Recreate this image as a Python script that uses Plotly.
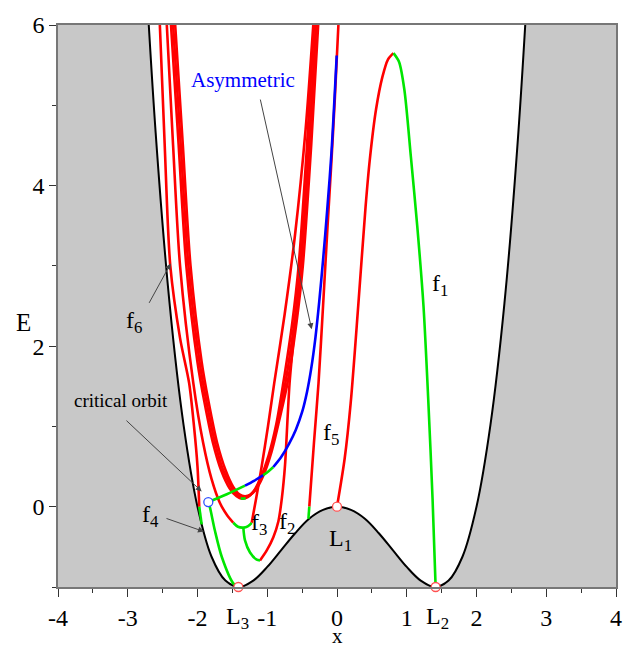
import plotly.graph_objects as go

# ---- boundary of the allowed region, E = V(x) ----
pot_x = [-2.8, -2.6, -2.4, -2.2, -2.0, -1.8, -1.6, -1.4, -1.2, -1.0, -0.8, -0.6, -0.4, -0.2, 0.0,
         0.2, 0.4, 0.6, 0.8, 1.0, 1.2, 1.4, 1.6, 1.8, 2.0, 2.2, 2.4, 2.6, 2.8]
pot_E = [7.53, 4.66, 2.53, 1.02, 0.0, -0.62, -0.92, -1.0, -0.92, -0.75, -0.54, -0.33, -0.15, -0.04, 0.0,
         -0.04, -0.15, -0.33, -0.54, -0.75, -0.92, -1.0, -0.92, -0.62, 0.0, 1.02, 2.53, 4.66, 7.53]

# ---- family f1 ----
f1_red_x = [0.0, 0.11, 0.196, 0.306, 0.41, 0.47, 0.56, 0.65, 0.73, 0.81]
f1_red_E = [0.0, 0.6, 1.29, 2.52, 3.74, 4.32, 4.95, 5.35, 5.57, 5.65]
f1_green_x = [0.81, 0.89, 0.965, 1.06, 1.15, 1.24, 1.31, 1.37, 1.414]
f1_green_E = [5.65, 5.54, 5.2, 4.35, 3.5, 2.5, 1.3, 0.1, -1.0]

# ---- family f5 ----
f5_green_x = [-0.41, -0.397]
f5_green_E = [-0.15, 0.0]
f5_red_x = [-0.397, -0.33, -0.265, -0.2, -0.135, -0.08, -0.03, 0.02]
f5_red_E = [0.0, 0.8, 1.54, 2.5, 3.5, 4.3, 5.1, 6.0]

# ---- outer branch reaching the boundary ----
outer_red_x = [-2.54, -2.47, -2.39, -2.25, -2.12, -2.05, -2.0, -1.975]
outer_red_E = [6.0, 4.5, 3.0, 2.1, 1.54, 1.0, 0.5, 0.0]
outer_green_x = [-1.975, -1.94]
outer_green_E = [0.0, -0.22]

# ---- family f3 ----
f3_left_x = [-2.44, -2.35, -2.25, -2.06, -1.92, -1.8, -1.68, -1.58, -1.487]
f3_left_E = [6.0, 4.5, 3.0, 1.54, 0.8, 0.35, 0.05, -0.1, -0.2]
f3_green_x = [-1.487, -1.42, -1.343, -1.28, -1.223]
f3_green_E = [-0.2, -0.25, -0.26, -0.245, -0.2]
f3_right_x = [-1.223, -1.16, -1.08, -0.99, -0.9, -0.75, -0.6, -0.45, -0.34]
f3_right_E = [-0.2, 0.1, 0.5, 1.0, 1.54, 2.4, 3.4, 4.7, 6.0]

# ---- family f2 ----
f2_green_x = [-1.343, -1.319, -1.247, -1.151, -1.104]
f2_green_E = [-0.26, -0.42, -0.57, -0.66, -0.67]
f2_red_x = [-1.104, -1.007, -0.913, -0.84, -0.79, -0.745, -0.707, -0.68, -0.6, -0.52, -0.4, -0.3]
f2_red_E = [-0.67, -0.545, -0.38, -0.18, 0.11, 0.52, 1.13, 1.54, 2.3, 3.0, 4.5, 6.0]

# ---- dense bundle of neighbouring families ----
bundle_x = [
    [-2.38, -2.27, -2.16, -2.0, -1.9, -1.78, -1.66, -1.54, -1.44, -1.36, -1.28, -1.19, -1.09, -0.98, -0.87, -0.77, -0.64, -0.55, -0.43, -0.33],
    [-2.35, -2.24, -2.13, -1.97, -1.87, -1.75, -1.63, -1.51, -1.42, -1.34, -1.26, -1.17, -1.07, -0.96, -0.85, -0.74, -0.61, -0.52, -0.40, -0.30],
    [-2.32, -2.21, -2.10, -1.94, -1.84, -1.72, -1.60, -1.49, -1.40, -1.32, -1.24, -1.15, -1.05, -0.94, -0.83, -0.71, -0.58, -0.49, -0.37, -0.27],
]
bundle_E = [
    [6.0, 4.5, 3.0, 1.8, 1.3, 0.8, 0.45, 0.23, 0.13, 0.10, 0.12, 0.2, 0.37, 0.64, 1.03, 1.54, 2.3, 3.0, 4.5, 6.0],
    [6.0, 4.5, 3.0, 1.8, 1.3, 0.8, 0.45, 0.24, 0.14, 0.115, 0.135, 0.215, 0.385, 0.66, 1.05, 1.54, 2.3, 3.0, 4.5, 6.0],
    [6.0, 4.5, 3.0, 1.8, 1.3, 0.8, 0.46, 0.25, 0.155, 0.13, 0.15, 0.23, 0.4, 0.68, 1.07, 1.54, 2.3, 3.0, 4.5, 6.0],
]
bundle_green_x = [-1.38, -1.35, -1.31]
bundle_green_E = [0.108, 0.10, 0.108]

# ---- critical orbit and the asymmetric family ----
crit_x = [-1.845, -1.82, -1.75, -1.65, -1.487, -1.414]
crit_E = [0.058, -0.015, -0.30, -0.63, -0.955, -1.0]
asym_green1_x = [-1.845, -1.58, -1.319]
asym_green1_E = [0.058, 0.155, 0.262]
asym_blue1_x = [-1.319, -1.19, -1.057]
asym_blue1_E = [0.262, 0.322, 0.393]
asym_green2_x = [-1.057, -0.985, -0.913]
asym_green2_E = [0.393, 0.44, 0.495]
asym_blue2_x = [-0.913, -0.80, -0.69, -0.59, -0.50, -0.43, -0.37, -0.31, -0.255, -0.20, -0.14, -0.08, -0.004]
asym_blue2_E = [0.495, 0.62, 0.78, 0.96, 1.18, 1.43, 1.72, 2.1, 2.55, 3.07, 3.7, 4.4, 5.62]

# ---- equilibrium points ----
lag_x = [0.0, -1.414, 1.414]
lag_E = [0.0, -1.0, -1.0]

# ---- axis ticks ----
x_ticks = [-4, -3, -2, -1, 0, 1, 2, 3, 4]
x_ticktext = ["-4", "-3", "-2", "-1", "0", "1", "2", "3", "4"]
y_ticks = [0, 2, 4, 6]
y_ticktext = ["0", "2", "4", "6"]

RED = "#ff0000"
GREEN = "#00e600"
BLUE = "#0000ff"
GRAY_BG = "rgb(200,200,200)"
FONT = "Liberation Serif, Times New Roman, serif"

fig = go.Figure()

# allowed region (white) bounded by the black potential curve
fig.add_trace(go.Scatter(x=pot_x, y=pot_E, mode="lines", fill="toself", fillcolor="white",
                         line=dict(color="black", width=2, shape="spline"), hoverinfo="skip"))


def seg(xs, ys, color, width=2.6):
    fig.add_trace(go.Scatter(x=xs, y=ys, mode="lines",
                             line=dict(color=color, width=width, shape="spline", smoothing=0.8)))


for bx, be in zip(bundle_x, bundle_E):
    seg(bx, be, RED)
seg(bundle_green_x, bundle_green_E, GREEN)

seg(outer_red_x, outer_red_E, RED)
seg(outer_green_x, outer_green_E, GREEN)
seg(f3_left_x, f3_left_E, RED)
seg(f3_right_x, f3_right_E, RED)
seg(f3_green_x, f3_green_E, GREEN)
seg(f2_red_x, f2_red_E, RED)
seg(f2_green_x, f2_green_E, GREEN)
seg(f5_red_x, f5_red_E, RED)
seg(f5_green_x, f5_green_E, GREEN)
seg(f1_red_x, f1_red_E, RED)
seg(f1_green_x, f1_green_E, GREEN)

seg(crit_x, crit_E, GREEN)
seg(asym_green1_x, asym_green1_E, GREEN)
seg(asym_blue1_x, asym_blue1_E, BLUE)
seg(asym_green2_x, asym_green2_E, GREEN)
seg(asym_blue2_x, asym_blue2_E, BLUE)

# equilibrium markers and the critical orbit point
fig.add_trace(go.Scatter(x=lag_x, y=lag_E, mode="markers", cliponaxis=False,
                         marker=dict(symbol="circle", size=9, color="white",
                                     line=dict(color="#ff5050", width=1.3))))
fig.add_trace(go.Scatter(x=[crit_x[0]], y=[crit_E[0]], mode="markers",
                         marker=dict(symbol="circle", size=9, color="white",
                                     line=dict(color="#3050ff", width=1.3))))

ann = []


def label(text, x, y, size=24, color="black"):
    ann.append(dict(x=x, y=y, xref="x", yref="y", text=text, showarrow=False,
                    font=dict(family=FONT, size=size, color=color)))


def pointer(x_tip, y_tip, x_tail, y_tail):
    ann.append(dict(x=x_tip, y=y_tip, ax=x_tail, ay=y_tail, xref="x", yref="y",
                    axref="x", ayref="y", text="", showarrow=True, arrowhead=2,
                    arrowsize=1.2, arrowwidth=1, arrowcolor="#444"))


label("Asymmetric", -1.35, 5.32, size=21, color=BLUE)
pointer(-0.363, 2.21, -1.104, 5.09)
label("f<sub>6</sub>", -2.91, 2.30)
pointer(-2.384, 3.03, -2.705, 2.52)
label("critical orbit", -3.10, 1.32, size=19)
pointer(-1.94, 0.19, -3.04, 1.09)
label("f<sub>4</sub>", -2.68, -0.11)
pointer(-1.907, -0.31, -2.466, -0.14)
label("f<sub>3</sub>", -1.12, -0.22)
label("f<sub>2</sub>", -0.72, -0.20)
label("f<sub>5</sub>", -0.08, 0.90)
label("L<sub>1</sub>", 0.05, -0.42)
label("f<sub>1</sub>", 1.47, 2.76)

# equilibrium names placed among the x tick labels
for name, xv in [("L<sub>3</sub>", -1.43), ("L<sub>2</sub>", 1.44)]:
    ann.append(dict(x=xv, y=-0.055, xref="x", yref="paper", text=name, showarrow=False,
                    yanchor="middle", font=dict(family=FONT, size=24, color="black")))

# axis titles
ann.append(dict(x=0.5, y=-0.0875, xref="paper", yref="paper", text="x", showarrow=False,
                yanchor="middle", font=dict(family=FONT, size=21, color="black")))
ann.append(dict(x=-0.061, y=0.471, xref="paper", yref="paper", text="E", showarrow=False,
                xanchor="center", font=dict(family=FONT, size=25, color="black")))

fig.update_layout(
    width=634, height=648,
    margin=dict(l=58, r=18, t=16, b=61),
    paper_bgcolor="white",
    plot_bgcolor=GRAY_BG,
    showlegend=False,
    annotations=ann,
    font=dict(family=FONT, size=24, color="black"),
)
fig.update_xaxes(range=[-4, 4], tickvals=x_ticks, ticktext=x_ticktext,
                 ticks="outside", ticklen=8, tickwidth=1.2, tickcolor="#333",
                 minor=dict(dtick=0.5, ticks="outside", ticklen=4, tickcolor="#333"),
                 showgrid=False, zeroline=False, showline=True, mirror=True,
                 linecolor="#777", linewidth=1.5,
                 tickfont=dict(family=FONT, size=24))
fig.update_yaxes(range=[-1, 6], tickvals=y_ticks, ticktext=y_ticktext,
                 ticks="outside", ticklen=7, tickwidth=1.2, tickcolor="#333",
                 minor=dict(dtick=1, ticks="outside", ticklen=4, tickcolor="#333"),
                 showgrid=False, zeroline=False, showline=True, mirror=True,
                 linecolor="#777", linewidth=1.5,
                 tickfont=dict(family=FONT, size=24))

fig.write_html("out.html")
